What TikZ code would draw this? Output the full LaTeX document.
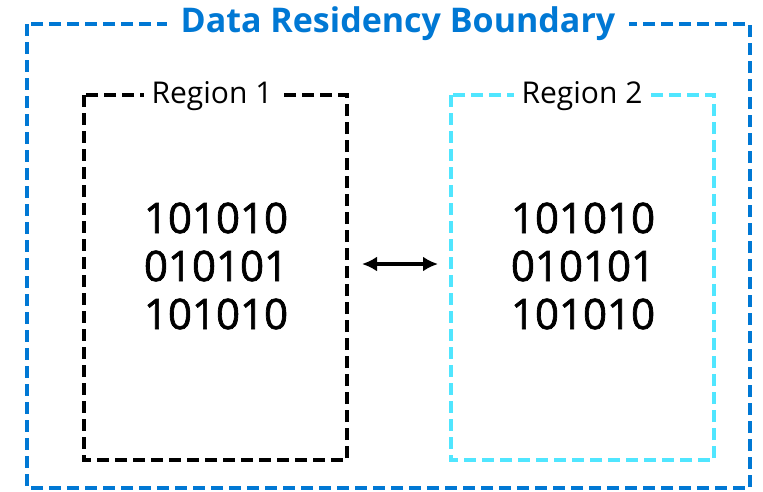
\documentclass[tikz,border=0pt]{standalone}
\usepackage{fontspec}
\setmainfont{Open Sans}
\newfontfamily\bitfont{Open Sans}[FakeBold=1.6]
\usetikzlibrary{arrows.meta, positioning}

\definecolor{azureblue}{HTML}{0078D4}
\definecolor{azurecyan}{HTML}{50E6FF}

\tikzset{
    regionbox/.style={line width=3.5pt, dash pattern=on 12pt off 6pt},
    regionlabel/.style={fill=white, inner xsep=8pt, font=\fontsize{30}{34}\selectfont},
    bits/.style={align=center, font=\bitfont\fontsize{42}{48}\selectfont}
}

\begin{document}
\begin{tikzpicture}[x=1pt, y=-1pt]
    % Background
    \useasboundingbox[fill=white] (0,0) rectangle (763,491);

    % outer boundary
    \draw[regionbox, color=azureblue] (27,24) rectangle (750,488);
    \node[fill=white, inner xsep=14pt, text=azureblue, font=\fontsize{34}{38}\selectfont\bfseries] (boundary) at (398,24) {Data Residency Boundary};

    % regions
    \draw[regionbox, color=black] (84,95) rectangle (347,460);
    \draw[regionbox, color=azurecyan] (451,95) rectangle (714,460);
    \node[regionlabel] (lbl1) at (212,96) {Region 1};
    \node[regionlabel] (lbl2) at (582,96) {Region 2};

    % data
    \node[bits] (data1) at (216,266) {101010\\010101\\101010};
    \node[bits] (data2) at (583,266) {101010\\010101\\101010};

    \draw[{Latex[length=15pt, width=15pt]}-{Latex[length=15pt, width=15pt]}, line width=3.5pt] (362,264) -- (438,264);

\end{tikzpicture}
\end{document}
